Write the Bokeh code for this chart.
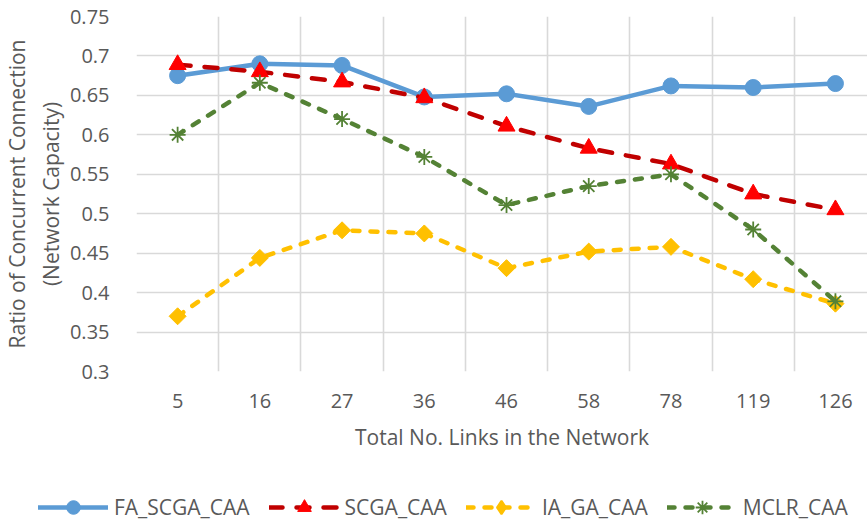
import math
from bokeh.plotting import figure
from bokeh.models import Range1d, FixedTicker, Legend, LegendItem, Grid
from bokeh.embed import file_html
from bokeh.resources import INLINE

# ---- data ----
links = ["5", "16", "27", "36", "46", "58", "78", "119", "126"]
fa_scga_caa = [0.675, 0.690, 0.688, 0.648, 0.652, 0.636, 0.662, 0.660, 0.665]
scga_caa = [0.689, 0.680, 0.667, 0.647, 0.611, 0.583, 0.563, 0.525, 0.505]
ia_ga_caa = [0.370, 0.444, 0.479, 0.475, 0.431, 0.452, 0.458, 0.417, 0.386]
mclr_caa = [0.600, 0.666, 0.620, 0.572, 0.511, 0.535, 0.550, 0.480, 0.389]
series_names = ["FA_SCGA_CAA", "SCGA_CAA", "IA_GA_CAA", "MCLR_CAA"]
y_ticks = [0.3, 0.35, 0.4, 0.45, 0.5, 0.55, 0.6, 0.65, 0.7, 0.75]
y_tick_labels = ["0.3", "0.35", "0.4", "0.45", "0.5", "0.55", "0.6", "0.65", "0.7", "0.75"]
x_label = "Total No. Links in the Network"
y_label = "Ratio of Concurrent Connection\n(Network Capacity)"

FONT = "Open Sans"
TXT = "#595959"
GRID = "#D9D9D9"

xs = list(range(len(links)))

p = figure(width=867, height=483, output_backend="svg", toolbar_location=None,
           x_range=Range1d(-0.5, len(links) - 0.61), y_range=Range1d(y_ticks[0], y_ticks[-1]),
           min_border_left=136, min_border_right=0, min_border_top=16, min_border_bottom=112)
p.outline_line_color = None
p.background_fill_color = "white"

# grids
p.xgrid.visible = False
p.ygrid.ticker = FixedTicker(ticks=y_ticks)
p.ygrid.grid_line_color = GRID
p.ygrid.grid_line_width = 1.6
vgrid = Grid(dimension=0, ticker=FixedTicker(ticks=[i - 0.5 for i in range(len(links) + 1)]),
             grid_line_color=GRID, grid_line_width=1.6)
p.add_layout(vgrid)

# axes
xa = p.xaxis[0]
xa.ticker = FixedTicker(ticks=xs)
xa.major_label_overrides = {i: lab for i, lab in enumerate(links)}
xa.axis_line_color = None
xa.major_tick_line_color = None
xa.minor_tick_line_color = None
xa.major_label_text_font = FONT
xa.major_label_text_font_size = "20px"
xa.major_label_text_color = TXT
xa.major_label_standoff = 16
xa.axis_label = x_label
xa.axis_label_text_font = FONT
xa.axis_label_text_font_size = "21px"
xa.axis_label_text_font_style = "normal"
xa.axis_label_text_color = TXT
xa.axis_label_standoff = 12

ya = p.yaxis[0]
ya.ticker = FixedTicker(ticks=y_ticks)
ya.major_label_overrides = {t: lab for t, lab in zip(y_ticks, y_tick_labels)}
ya.axis_line_color = None
ya.major_tick_line_color = None
ya.minor_tick_line_color = None
ya.major_label_text_font = FONT
ya.major_label_text_font_size = "20px"
ya.major_label_text_color = TXT
ya.major_label_standoff = 21
ya.axis_label = y_label
ya.axis_label_text_font = FONT
ya.axis_label_text_font_size = "21px"
ya.axis_label_text_font_style = "normal"
ya.axis_label_text_color = TXT
ya.axis_label_standoff = 2

# styles
blue, red_line, red_mark, yellow, green = "#5B9BD5", "#C00000", "#FF0000", "#FFC000", "#548235"
line_styles = [
    dict(line_color=blue, line_width=4.5, line_join="round", line_cap="round"),
    dict(line_color=red_line, line_width=4.5, line_dash="13 14", line_cap="round"),
    dict(line_color=yellow, line_width=4.5, line_dash="7 11", line_cap="round"),
    dict(line_color=green, line_width=4.5, line_dash="7 11", line_cap="round"),
]
marker_styles = [
    dict(marker="circle", size=16, fill_color=blue, line_color=blue),
    dict(marker="triangle", size=17, fill_color=red_mark, line_color=red_mark),
    dict(marker="square", angle=math.pi / 4, size=12, fill_color=yellow, line_color=yellow),
    dict(marker="asterisk", size=16, line_color=green, line_width=1.8),
]
# legend swatches are drawn unrotated, so the diamond uses its own marker there
legend_marker_styles = [
    dict(marker="circle", fill_color=blue, line_color=blue),
    dict(marker="triangle", fill_color=red_mark, line_color=red_mark),
    dict(marker="diamond", fill_color=yellow, line_color=yellow, line_width=2),
    dict(marker="asterisk", line_color=green, line_width=1.8),
]
series = [fa_scga_caa, scga_caa, ia_ga_caa, mclr_caa]

for ys, ls, ms in zip(series, line_styles, marker_styles):
    p.line(xs, ys, **ls)
    p.scatter(xs, ys, **ms)

# legend strip: a second root so that the legend can span the full width
p2 = figure(width=867, height=40, output_backend="svg", toolbar_location=None,
            x_range=Range1d(-100, -99), y_range=Range1d(-100, -99),
            x_axis_location=None, y_axis_location=None,
            min_border_left=0, min_border_right=0, min_border_top=0, min_border_bottom=0)
p2.grid.visible = False
p2.outline_line_color = None

items = []
for name, ys, ls, ms in zip(series_names, series, line_styles, legend_marker_styles):
    lr = p2.line(xs, ys, **ls)
    mr = p2.scatter(xs, ys, **ms)
    items.append(LegendItem(label=name, renderers=[lr, mr]))

legend = Legend(items=items, orientation="horizontal", location=(38, -1),
                glyph_width=70, glyph_height=34, spacing=19, label_standoff=6,
                padding=0, margin=0, border_line_color=None, background_fill_alpha=0,
                label_text_font=FONT, label_text_font_size="21px", label_text_color=TXT)
p2.add_layout(legend, "center")

open("out.html", "w").write(file_html([p, p2], INLINE))
